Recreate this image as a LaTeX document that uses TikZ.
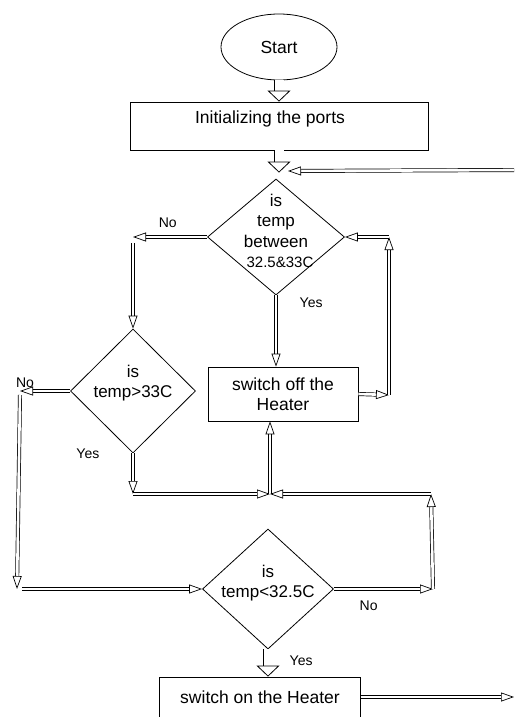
\documentclass[tikz,border=0pt]{standalone}
\usepackage{fontspec}
\setmainfont{Liberation Sans}
\usetikzlibrary{arrows.meta,positioning,calc,shapes.geometric}

\tikzset{
  stepbox/.style={draw,line width=0.8pt,rectangle,inner sep=0pt},
  decision/.style={draw,line width=0.8pt,diamond,inner sep=0pt},
  terminal/.style={draw,line width=0.8pt,ellipse,inner sep=0pt},
  decText/.style={align=center,font=\fontsize{17}{20.5}\selectfont},
  fatflow/.style={line width=0.8pt,double,double distance=9pt,-{Triangle[open,length=11pt,width=23pt]}},
  flow/.style={line width=0.7pt,double,double distance=2.6pt,-{Triangle[open,length=13pt,width=9pt]}},
  answer/.style={font=\fontsize{14}{16}\selectfont},
}

\begin{document}
\begin{tikzpicture}[x=1pt,y=-1pt,font=\fontsize{17.5}{20.5}\selectfont]
\useasboundingbox (0,0) rectangle (514,717);
\clip (0,0) rectangle (514,717);

% blocks
\node[terminal,minimum width=116pt,minimum height=66pt] (start) at (279,47) {Start};
\node[stepbox,minimum width=298pt,minimum height=48pt,text height=13pt,text depth=19pt] (init) at (279,126) {Initializing the ports\hspace*{18pt}};
\node[decision,minimum width=137pt,minimum height=116pt,
  label={[decText,yshift=6pt]center:is\\temp\\between\\\hspace*{8pt}{\fontsize{15}{18}\selectfont 32.5\&33C}}] (isMid) at (276,237) {};
\node[decision,minimum width=125pt,minimum height=124pt,
  label={[decText,yshift=8pt]center:is\\temp>33C}] (isHigh) at (133,391) {};
\node[stepbox,minimum width=150pt,minimum height=54pt,align=center] (heatOff) at (283,394) {switch off the\\Heater};
\node[decision,minimum width=131pt,minimum height=120pt,
  label={[decText,yshift=6pt]center:is\\temp<32.5C}] (isLow) at (268,589) {};
\node[stepbox,minimum width=201pt,minimum height=64pt,text height=13pt,text depth=25pt] (heatOn) at (260,709) {switch on the Heater};

% corners of the loops
\coordinate (topIn) at (514,170);
\coordinate (topJoin) at (288,171);
\coordinate (noMid) at (133,237);
\coordinate (noHigh) at (20,391);
\coordinate (leftBot) at (17,589);
\coordinate (yesHigh) at (133,494);
\coordinate (midJ) at (270,494);
\coordinate (rightJ) at (431,494);
\coordinate (noLow) at (433,589);
\coordinate (offOut) at (389,395);
\coordinate (loopTop) at (389,237);
\coordinate (onOut) at (514,697);

% main line
\draw[fatflow] (start) -- (init);
\draw[fatflow] (init.south) -- ([yshift=6pt]init.south |- isMid.north);
\draw[flow] (topIn) -- (topJoin);
\draw[flow] (isMid.west) -- node[answer,pos=0.53,above=6pt]{No} (noMid);
\draw[flow] ([yshift=-6pt]noMid) -- (isHigh.north);
\draw[flow] (isMid.south) -- node[answer,pos=0.1,right=20pt]{Yes} (isMid.south |- heatOff.north);
\draw[flow] (heatOff.east) -- (offOut);
\draw[flow] (offOut) -- (loopTop);
\draw[flow] (loopTop) -- (isMid.east);

% second test
\draw[flow] (isHigh.west) -- node[answer,pos=0.9,above=0pt]{No} (noHigh);
\draw[flow] ([yshift=-4pt]noHigh) -- (leftBot);
\draw[flow] ([xshift=5pt]leftBot) -- (isLow.west);
\draw[flow] (isHigh.south) -- node[answer,pos=0,left=30pt]{Yes} (yesHigh);
\draw[flow] (yesHigh) -- (midJ);
\draw[flow] (midJ) -- (midJ |- heatOff.south);

% third test
\draw[flow] (isLow.east) -- node[answer,pos=0.35,below=8pt]{No} (noLow);
\draw[flow] (noLow) -- (rightJ);
\draw[flow] (rightJ) -- (midJ);
\draw[fatflow] (isLow.south) -- node[answer,pos=0.4,right=18pt]{Yes} (isLow.south |- heatOn.north);
\draw[flow] (heatOn.east |- onOut) -- (onOut);
\end{tikzpicture}
\end{document}
